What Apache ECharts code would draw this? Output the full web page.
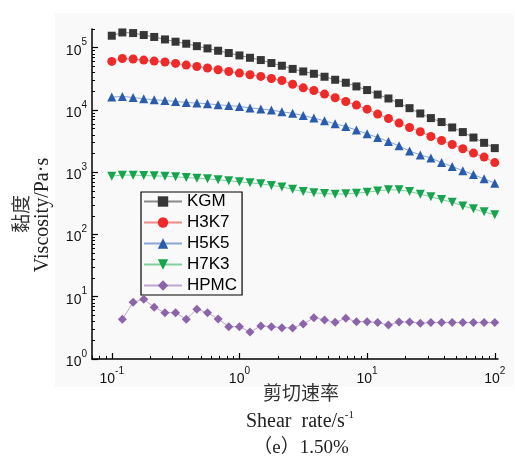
<!DOCTYPE html>
<html>
<head>
<meta charset="utf-8">
<script src="https://cdn.jsdelivr.net/npm/echarts@6/dist/echarts.min.js"></script>
<style>
  html, body { margin: 0; padding: 0; background: #ffffff; }
  #chart { width: 515px; height: 456px; }
</style>
</head>
<body>
<div id="chart"></div>
<script>
// Shear rate sweep points (s^-1), 12 per decade
const shearRate = [0.1, 0.121, 0.147, 0.178, 0.215, 0.261, 0.316, 0.383, 0.464, 0.562, 0.681, 0.825,
  1, 1.21, 1.47, 1.78, 2.15, 2.61, 3.16, 3.83, 4.64, 5.62, 6.81, 8.25,
  10, 12.1, 14.7, 17.8, 21.5, 26.1, 31.6, 38.3, 46.4, 56.2, 68.1, 82.5, 100];

// Apparent viscosity (Pa·s)
const kgm = [156000, 176000, 172000, 160000, 149000, 136000, 125000, 116000, 106000, 97500, 89500, 82200,
  75200, 69000, 63400, 56800, 51400, 45700, 41600, 38200, 34200, 30600, 27400, 23900,
  20900, 17700, 15300, 12900, 10700, 8790, 7410, 6400, 5240, 4420, 3610, 2970, 2440];
const h3k7 = [60300, 67300, 65800, 63400, 61100, 58900, 56000, 52700, 50000, 47200, 44300, 41600,
  39200, 36800, 34600, 32100, 29800, 25900, 22700, 20600, 18000, 15700, 13700, 12000,
  10300, 8590, 7300, 6160, 5240, 4470, 3750, 3240, 2790, 2380, 2030, 1750, 1430];
const h5k5 = [16100, 16500, 15900, 15100, 14600, 14200, 13700, 13200, 12900, 12600, 12100, 11800,
  11400, 10800, 10400, 9960, 9350, 8850, 8160, 7410, 6700, 6000, 5430, 4750,
  4140, 3610, 3120, 2660, 2190, 1900, 1690, 1430, 1240, 1060, 918, 783, 668];
const h7k3 = [865, 898, 898, 885, 875, 865, 843, 822, 804, 783, 755, 728,
  702, 676, 652, 615, 582, 531, 490, 467, 455, 445, 450, 461,
  479, 502, 521, 521, 490, 445, 403, 364, 330, 288, 258, 231, 207];
const hpmc = [null, 4.35, 8.16, 9.12, 6.78, 5.55, 5.55, 4.35, 6.30, 5.55, 4.40, 3.31,
  3.31, 2.72, 3.39, 3.31, 3.19, 3.15, 3.65, 4.61, 4.24, 3.89, 4.51, 3.98,
  3.98, 3.84, 3.52, 3.94, 3.94, 3.75, 3.84, 3.84, 3.84, 3.84, 3.84, 3.84, 3.84];

const seriesNames = ['KGM', 'H3K7', 'H5K5', 'H7K3', 'HPMC'];
const seriesValues = [kgm, h3k7, h5k5, h7k3, hpmc];

// Axis decades (exponents of ten)
const xDecades = [-1, 0, 1, 2];
const yDecades = [0, 1, 2, 3, 4, 5];
const xRange = [0.07, 106];
const yRange = [1, 200000];

const markerColors = ['#363636', '#ee2a2a', '#2a5cad', '#17a44f', '#8c64aa'];
const lineColors = ['#8a8a8a', '#f28a8a', '#8aa6d6', '#85cf9f', '#bca6d0'];
const symbols = ['rect', 'circle', 'triangle', 'triangle', 'diamond'];
const symbolRotates = [0, 0, 0, 180, 0];
const symbolSizes = [8, 9, 9, 9, 9];

// The plot works in log10 space on value axes so decade and minor ticks can be placed exactly
const lg = v => Math.log10(v);
function minorTicks(fromDecade, toDecade) {
  const out = [];
  for (let d = fromDecade; d <= toDecade; d++) {
    for (let m = 2; m <= 9; m++) out.push(lg(m * Math.pow(10, d)));
  }
  return out;
}

const sansFont = '"Liberation Sans", Arial, sans-serif';
const serifFont = '"Liberation Serif", "Times New Roman", "Noto Sans CJK SC", serif';

const powerLabel = {
  formatter: v => '{b|10}{s|' + Math.round(v) + '}',
  rich: {
    b: { fontSize: 14, lineHeight: 20, verticalAlign: 'bottom', fontFamily: sansFont, color: '#111' },
    s: { fontSize: 10, lineHeight: 10, verticalAlign: 'top', fontFamily: sansFont, color: '#111' }
  }
};

function majorAxis(range, decades, margin) {
  return {
    type: 'value', min: lg(range[0]), max: lg(range[1]),
    axisLine: { show: true, onZero: false, lineStyle: { color: '#000', width: 1.5 } },
    axisTick: { show: true, inside: true, length: 6, customValues: decades, lineStyle: { color: '#000', width: 1.2 } },
    axisLabel: Object.assign({ customValues: decades, margin: margin }, powerLabel),
    splitLine: { show: false }
  };
}
function minorAxis(range, fromDecade, toDecade) {
  return {
    type: 'value', min: lg(range[0]), max: lg(range[1]),
    axisLine: { show: false, onZero: false },
    axisTick: { show: true, inside: true, length: 3, customValues: minorTicks(fromDecade, toDecade), lineStyle: { color: '#000', width: 1 } },
    axisLabel: { show: false },
    splitLine: { show: false }
  };
}

const xMajor = Object.assign(majorAxis(xRange, xDecades, 7), { position: 'bottom' });
const xMinor = Object.assign(minorAxis(xRange, -2, 2), { position: 'bottom' });
const yMajor = Object.assign(majorAxis(yRange, yDecades, 5), { position: 'left' });
const yMinor = Object.assign(minorAxis(yRange, 0, 5), { position: 'left' });

const series = seriesNames.map((name, i) => ({
  name: name,
  type: 'line',
  xAxisIndex: 0,
  yAxisIndex: 0,
  data: shearRate.map((x, k) => seriesValues[i][k] == null ? [lg(x), null] : [lg(x), lg(seriesValues[i][k])]),
  symbol: symbols[i],
  symbolRotate: symbolRotates[i],
  symbolSize: symbolSizes[i],
  showAllSymbol: true,
  connectNulls: false,
  itemStyle: { color: markerColors[i] },
  lineStyle: { color: lineColors[i], width: 1 },
  emphasis: { disabled: true },
  animation: false,
  z: 3 + i
}));

const chart = echarts.init(document.getElementById('chart'), null, { renderer: 'canvas' });
chart.setOption({
  animation: false,
  backgroundColor: '#ffffff',
  grid: { left: 92, right: 17, top: 29, bottom: 97, containLabel: false },
  xAxis: [xMajor, xMinor],
  yAxis: [yMajor, yMinor],
  legend: {
    orient: 'vertical',
    left: 141, top: 192,
    itemWidth: 38, itemHeight: 13, itemGap: 4,
    padding: [1, 5, 1, 2],
    borderColor: '#000', borderWidth: 1.2,
    textStyle: { fontFamily: sansFont, fontSize: 17, lineHeight: 17, color: '#000' },
    data: seriesNames
  },
  graphic: [
    { type: 'rect', z: -10, silent: true, shape: { x: 55, y: 13, width: 459, height: 374 }, style: { fill: '#f9f9f9' } },
    { type: 'text', x: 23, y: 214, rotation: Math.PI / 2, silent: true,
      style: { text: '黏度', fontSize: 19, fontFamily: serifFont, fill: '#333', align: 'center', verticalAlign: 'middle' } },
    { type: 'text', x: 43, y: 215, rotation: Math.PI / 2, silent: true,
      style: { text: 'Viscosity/Pa·s', fontSize: 20, fontFamily: serifFont, fill: '#222', align: 'center', verticalAlign: 'middle' } },
    { type: 'text', x: 301, y: 395, silent: true,
      style: { text: '剪切速率', fontSize: 19, fontFamily: serifFont, fill: '#333', align: 'center', verticalAlign: 'middle' } },
    { type: 'text', x: 300, y: 421, silent: true,
      style: { text: '{m|Shear  rate/s}{s|-1}', align: 'center', verticalAlign: 'middle',
        rich: {
          m: { fontSize: 20, lineHeight: 22, fontFamily: serifFont, fill: '#222', verticalAlign: 'bottom' },
          s: { fontSize: 11, lineHeight: 11, fontFamily: serifFont, fill: '#222', verticalAlign: 'top' }
        } } },
    { type: 'text', x: 301, y: 448, silent: true,
      style: { text: '（e）1.50%', fontSize: 19, fontFamily: serifFont, fill: '#222', align: 'center', verticalAlign: 'middle' } }
  ],
  series: series
});
</script>
</body>
</html>
